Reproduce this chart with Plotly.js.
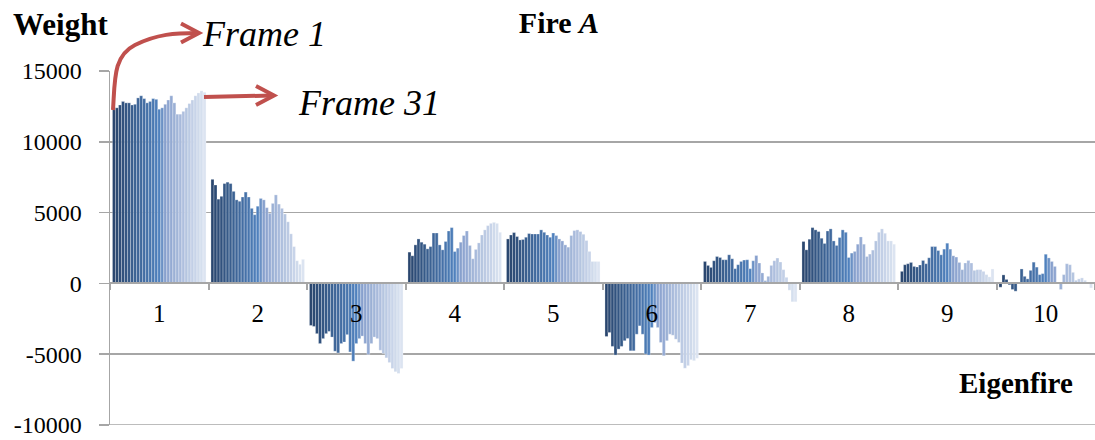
<!DOCTYPE html>
<html>
<head>
<meta charset="utf-8">
<script src="https://cdn.plot.ly/plotly-3.0.1.min.js"></script>
<style>
  html, body { margin: 0; padding: 0; background: #fff; }
  #chart { width: 1095px; height: 440px; }
</style>
</head>
<body>
<div id="chart"></div>
<script>
// Eigenfire categories on the x axis
const eigenfires = ['1', '2', '3', '4', '5', '6', '7', '8', '9', '10'];

// Frame labels (one bar per frame inside every eigenfire group)
const frames = Array.from({length: 31}, (_, i) => 'Frame ' + (i + 1));

// Weights of each eigenfire, frames 1..31
const eigenfire1 = [12400, 12400, 12600, 12850, 12750, 12750, 12600, 12650, 13100, 13250, 13050, 12750, 12850, 13050, 13000, 12300, 12400, 12650, 12950, 13250, 12750, 11950, 11950, 12150, 12400, 12700, 12950, 13250, 13450, 13600, 13500];
const eigenfire2 = [7350, 6950, 5950, 6150, 7050, 7150, 7050, 6500, 5900, 5800, 6100, 6450, 6100, 5300, 4850, 5450, 6000, 5900, 5350, 4950, 5650, 6250, 5600, 5300, 4900, 4350, 3500, 2600, 1600, 1350, 1700];
const eigenfire3 = [-2970, -3040, -3550, -4250, -3900, -3550, -3390, -3790, -4790, -4910, -4250, -4140, -3620, -4840, -5490, -4250, -3900, -3720, -4250, -5020, -4250, -3790, -3900, -4720, -4950, -5260, -5590, -6010, -6240, -6360, -6010];
const eigenfire4 = [2210, 1950, 2720, 3140, 2910, 2770, 2440, 2600, 3560, 3560, 2720, 2370, 2960, 3700, 3940, 2250, 2490, 2910, 3380, 3700, 2680, 1740, 2400, 2860, 3420, 3780, 4080, 4240, 4310, 4240, 3610];
const eigenfire5 = [3140, 3420, 3590, 3310, 3070, 3100, 3260, 3520, 3490, 3490, 3490, 3780, 3610, 3420, 3260, 3560, 3380, 3140, 3000, 2720, 2560, 3380, 3730, 3780, 3660, 3470, 3030, 2260, 1550, 1550, 1550];
const eigenfire6 = [-3750, -3470, -4450, -5060, -4640, -4450, -4050, -3890, -4760, -4760, -3590, -3000, -3590, -4990, -5060, -3120, -2770, -3120, -4170, -5110, -4050, -3590, -3660, -3940, -4170, -5620, -5990, -5810, -5390, -5460, -5290];
const eigenfire7 = [1550, 1270, 1130, 1600, 1900, 1830, 1670, 1670, 2020, 1740, 1040, 1320, 1550, 1650, 1670, 1040, 1600, 1970, 1440, 740, 200, 500, 1270, 1600, 1790, 1510, 970, 430, -480, -1300, -1300];
const eigenfire8 = [2960, 2370, 3120, 3940, 3780, 3660, 3190, 2820, 3700, 3850, 3000, 2680, 3240, 3780, 3610, 1830, 2140, 2260, 2770, 3280, 2770, 1900, 2070, 2350, 3000, 3610, 3850, 3540, 3000, 3000, 2770];
const eigenfire9 = [850, 1320, 1390, 1480, 1200, 1160, 1300, 1620, 1390, 1810, 2600, 2600, 2320, 2020, 2420, 2840, 2420, 1950, 1860, 1480, 970, 1440, 1620, 1440, 920, 970, 970, 850, 620, 460, 1020];
const eigenfire10 = [-270, 600, 280, -100, -430, -550, 80, 1020, 500, 320, 920, 1500, 1150, 620, 690, 2060, 1800, 1550, 1200, 80, -430, 620, 1390, 1320, 780, 220, 320, 390, 220, 40, -320];

// Tick values/labels for the weight axis
const weightTicks = [-10000, -5000, 0, 5000, 10000, 15000];
const weightTickText = ['-10000', '-5000', '0', '5000', '10000', '15000'];
const weightRange = [-10000, 15000];

const groups = [eigenfire1, eigenfire2, eigenfire3, eigenfire4, eigenfire5,
                eigenfire6, eigenfire7, eigenfire8, eigenfire9, eigenfire10];

// Blue shading that runs from dark (first frame) to pale (last frame)
const colorStops = [
  [0,  [42, 70, 110]],
  [15, [79, 129, 189]],
  [17, [135, 160, 205]],
  [30, [220, 228, 241]]
];
function frameColor(i) {
  for (let k = 0; k < colorStops.length - 1; k++) {
    const [a, ca] = colorStops[k];
    const [b, cb] = colorStops[k + 1];
    if (i >= a && i <= b) {
      const t = (i - a) / (b - a);
      const c = ca.map((v, j) => Math.round(v + (cb[j] - v) * t));
      return 'rgb(' + c.join(',') + ')';
    }
  }
  return 'rgb(220,228,241)';
}

const traces = frames.map((name, i) => ({
  type: 'bar',
  name: name,
  x: eigenfires,
  y: groups.map(g => g[i]),
  marker: {
    color: frameColor(i),
    line: {color: 'rgba(255,255,255,0.55)', width: 0.5}
  },
  hoverinfo: 'x+y+name'
}));

// Plot-area geometry in pixels, used to place the callouts
const W = 1095, H = 440;
const M = {l: 110, r: 0, t: 71, b: 15};
const fx = px => (px - M.l) / (W - M.l - M.r);
const fy = py => (H - M.b - py) / (H - M.t - M.b);
function path(cmds) {
  return cmds.map(c => typeof c === 'string' ? c : fx(c[0]).toFixed(5) + ',' + fy(c[1]).toFixed(5)).join(' ');
}

const serif = '"Liberation Serif", "Times New Roman", serif';
const arrowRed = '#C0504D';
const gridGrey = '#A6A6A6';

const shapes = [
  // bottom gridline of the weight axis
  {type: 'line', xref: 'paper', yref: 'y', x0: 0, x1: 1, y0: weightRange[0], y1: weightRange[0],
   layer: 'below', line: {color: gridGrey, width: 1.5}},
  // curved arrow from the first frame bar to its label
  {type: 'path', xref: 'paper', yref: 'paper', layer: 'above',
   path: path(['M', [113, 110], 'C', [115, 80], [113, 56], [135, 45], 'S', [175, 33], [198, 33]]),
   line: {color: arrowRed, width: 4}},
  {type: 'path', xref: 'paper', yref: 'paper', layer: 'above',
   path: path(['M', [181, 23.5], 'L', [199, 33], 'L', [181, 42.5]]),
   line: {color: arrowRed, width: 4}},
  // straight arrow from the last frame bar to its label
  {type: 'path', xref: 'paper', yref: 'paper', layer: 'above',
   path: path(['M', [204, 97], 'L', [272, 95.5]]),
   line: {color: arrowRed, width: 4}},
  {type: 'path', xref: 'paper', yref: 'paper', layer: 'above',
   path: path(['M', [256, 86], 'L', [274, 95.5], 'L', [256, 105]]),
   line: {color: arrowRed, width: 4}}
];

const annotations = [
  {text: '<b>Weight</b>', xref: 'paper', yref: 'paper', x: fx(11), y: fy(25),
   xanchor: 'left', yanchor: 'middle', showarrow: false,
   font: {family: serif, size: 31, color: '#000'}},
  {text: '<b>Eigenfire</b>', xref: 'paper', yref: 'paper', x: fx(1075), y: fy(383),
   xanchor: 'right', yanchor: 'middle', showarrow: false,
   font: {family: serif, size: 29, color: '#000'}},
  {text: '<i>Frame 1</i>', xref: 'paper', yref: 'paper', x: fx(200), y: fy(34),
   xanchor: 'left', yanchor: 'middle', showarrow: false,
   font: {family: serif, size: 36, color: '#000'}},
  {text: '<i>Frame 31</i>', xref: 'paper', yref: 'paper', x: fx(296), y: fy(103),
   xanchor: 'left', yanchor: 'middle', showarrow: false,
   font: {family: serif, size: 36, color: '#000'}}
];

const layout = {
  width: W, height: H,
  margin: M,
  paper_bgcolor: '#fff', plot_bgcolor: '#fff',
  showlegend: false,
  barmode: 'group',
  bargap: 0.05,
  bargroupgap: 0,
  title: {
    text: '<b>Fire <i>A</i></b>',
    font: {family: serif, size: 30, color: '#000'},
    x: 559 / W, xanchor: 'center',
    y: 1 - 22 / H, yanchor: 'middle'
  },
  xaxis: {
    type: 'category',
    anchor: 'free',
    position: 0.4,
    showline: true, linecolor: gridGrey, linewidth: 2,
    ticks: 'outside', tickson: 'boundaries', ticklen: 6, tickcolor: gridGrey, tickwidth: 2,
    ticklabelstandoff: 8,
    showgrid: false, zeroline: false,
    tickfont: {family: serif, size: 25, color: '#000'}
  },
  yaxis: {
    range: weightRange,
    tickvals: weightTicks, ticktext: weightTickText,
    showgrid: true, gridcolor: gridGrey, gridwidth: 1.5,
    showline: true, linecolor: gridGrey, linewidth: 1.5,
    ticks: 'outside', ticklen: 10, tickcolor: gridGrey, tickwidth: 1.5,
    ticklabelstandoff: 12,
    ticklabeloverflow: 'allow',
    zeroline: false,
    tickfont: {family: serif, size: 24, color: '#000'}
  },
  shapes: shapes,
  annotations: annotations
};

Plotly.newPlot('chart', traces, layout, {displayModeBar: false, staticPlot: true});
</script>
</body>
</html>
